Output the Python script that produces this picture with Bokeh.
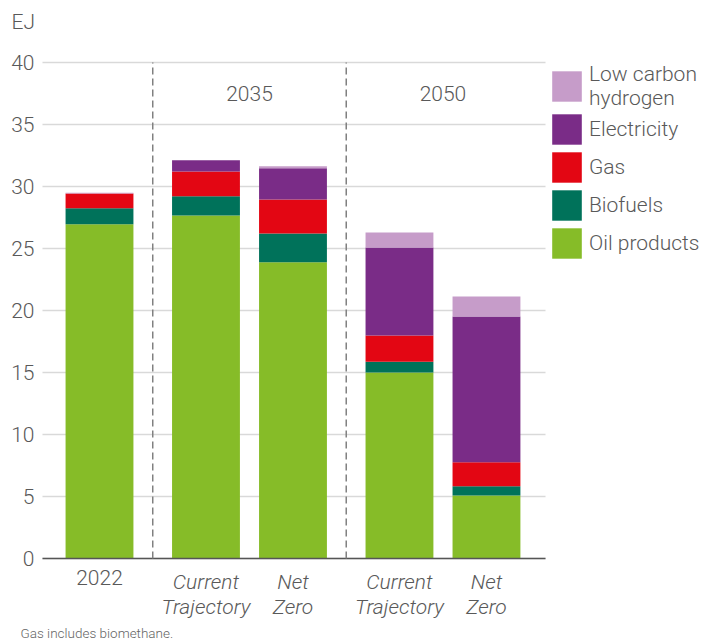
from bokeh.plotting import figure
from bokeh.models import Range1d, Legend, LegendItem, ColumnDataSource
from bokeh.core.properties import value
from bokeh.embed import file_html
from bokeh.resources import INLINE

# ---- data ----
bar_labels = ["2022", "Current\nTrajectory", "Net\nZero", "Current\nTrajectory", "Net\nZero"]
bar_italic = [False, True, True, True, True]
bar_groups = ["2022", "2035", "2035", "2050", "2050"]
oil_products = [26.95, 27.66, 23.90, 15.00, 5.08]
biofuels     = [1.30, 1.55, 2.30, 0.86, 0.75]
gas          = [1.19, 2.00, 2.75, 2.12, 1.94]
electricity  = [0.00, 0.90, 2.53, 7.10, 11.75]
hydrogen     = [0.05, 0.00, 0.16, 1.21, 1.61]
series_names = ["Oil products", "Biofuels", "Gas", "Electricity", "Low carbon\nhydrogen"]
colors = ["#86bc28", "#00725a", "#e30613", "#7a2c87", "#c69cc9"]
y_ticks = [0, 5, 10, 15, 20, 25, 30, 35, 40]
unit_label = "EJ"
footnote = "Gas includes biomethane."

FONT_S = "Roboto Light, Roboto"
FONT = value(FONT_S)
TXT = "#595959"

# ---- pixel layout (figure pixels) ----
W, H = 705, 639
PX_UNIT_X = 87.0          # px per category step
PX_UNIT_Y = 12.4          # px per EJ
FX0 = 99.0                # px of first category centre
FY0 = 558.0               # px of y = 0 (from top)
PLOT_L_PX, PLOT_R_PX = 42.0, 545.0

def xd(px):
    return (px - FX0) / PX_UNIT_X

def yd(py):
    return (FY0 - py) / PX_UNIT_Y

GAP = 0.224
group_order = []
for g in bar_groups:
    if g not in group_order:
        group_order.append(g)
xpos = [i + GAP * group_order.index(g) for i, g in enumerate(bar_groups)]
PL, PR = xd(PLOT_L_PX), xd(PLOT_R_PX)
YTOP = y_ticks[-1]

keys = ["oil", "bio", "gas", "elec", "h2"]
src = ColumnDataSource(dict(x=xpos, oil=oil_products, bio=biofuels, gas=gas,
                            elec=electricity, h2=hydrogen))

p = figure(width=W, height=H, output_backend="svg", toolbar_location=None,
           x_range=Range1d(xd(0), xd(W)), y_range=Range1d(yd(H), yd(0)),
           min_border=0)
p.xaxis.visible = False
p.yaxis.visible = False
p.xgrid.visible = False
p.ygrid.visible = False
p.outline_line_color = None
p.background_fill_color = "white"
p.border_fill_color = "white"

# gridlines
p.segment(x0=[PL] * len(y_ticks), x1=[PR] * len(y_ticks), y0=y_ticks, y1=y_ticks,
          line_color="#d9d9d9", line_width=1.5)

renderers = p.vbar_stack(keys, x="x", width=0.78, source=src, color=colors, line_color=None)

# baseline axis
p.segment(x0=[PL], x1=[PR], y0=[0], y1=[0], line_color="#555555", line_width=1.5)

# dividers between groups
mids = [(xpos[k] + xpos[k - 1]) / 2 for k in range(1, len(bar_groups))
        if bar_groups[k] != bar_groups[k - 1]]
p.segment(x0=mids, x1=mids, y0=[0] * len(mids), y1=[YTOP] * len(mids),
          line_color="#808080", line_dash="7 4", line_width=1.5)

# y tick labels
p.text(x=[PL] * len(y_ticks), y=y_ticks, text=[str(t) for t in y_ticks], x_offset=-8,
       text_align="right", text_baseline="middle", text_font=FONT,
       text_font_size="21px", text_color=TXT)

# group labels
gx, gt = [], []
for g in group_order[1:]:
    idx = [i for i, b in enumerate(bar_groups) if b == g]
    gx.append(sum(xpos[i] for i in idx) / len(idx))
    gt.append(g)
p.text(x=gx, y=[37.5] * len(gx), text=gt, text_align="center", text_baseline="middle",
       text_font=FONT, text_font_size="21px", text_color=TXT)

# category labels
for italic in (False, True):
    sel = [i for i in range(len(bar_labels)) if bar_italic[i] == italic]
    p.text(x=[xpos[i] for i in sel], y=[0] * len(sel), text=[bar_labels[i] for i in sel],
           y_offset=11, text_align="center", text_baseline="top", text_font=FONT,
           text_font_style="italic" if italic else "normal", text_font_size="21px",
           text_color=TXT, text_line_height=1.05)

# unit + footnote
p.text(x=[PL], y=[YTOP], text=[unit_label], x_offset=-31, y_offset=-41,
       text_align="left", text_baseline="middle", text_font=FONT,
       text_font_size="21px", text_color=TXT)
p.text(x=[PL], y=[0], text=[footnote], x_offset=-22, y_offset=74,
       text_align="left", text_baseline="middle", text_font=FONT,
       text_font_size="13.5px", text_color="#666666")

items = [LegendItem(label=series_names[i], renderers=[renderers[i]])
         for i in range(len(keys) - 1, -1, -1)]
legend = Legend(items=items, location=(548, H - 58 - 204), orientation="vertical",
                glyph_width=37, glyph_height=38, label_height=38, spacing=0,
                label_standoff=4, padding=0, margin=0, border_line_color=None,
                background_fill_alpha=0, label_text_font=FONT_S,
                label_text_font_size="21px", label_text_color=TXT,
                label_text_line_height=1.24)
p.add_layout(legend)

open("out.html", "w").write(file_html(p, INLINE))
